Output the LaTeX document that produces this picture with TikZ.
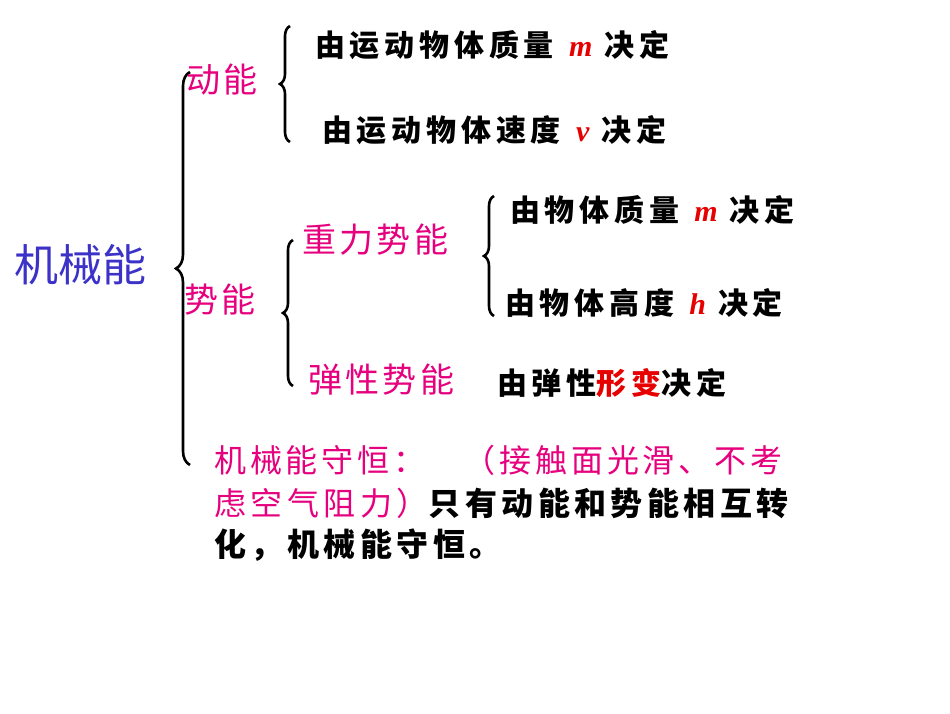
\documentclass[tikz,border=0pt]{standalone}
\usepackage{fontspec}
\setmainfont{Noto Sans CJK SC}
\newfontfamily\serifit{Liberation Serif}
\usetikzlibrary{decorations.pathreplacing}
\definecolor{mag}{RGB}{230,0,126}
\definecolor{titleblue}{RGB}{60,50,200}
\definecolor{rd}{RGB}{230,0,0}
\tikzset{
  br/.style={decorate,decoration={brace,amplitude=10pt,mirror},line width=2.6pt},
  hd/.style={text=mag,font=\fontsize{34}{38}\selectfont\addfontfeature{LetterSpace=10},inner sep=0pt,anchor=west},
  tx/.style={text=black,font=\bfseries\fontsize{30}{34}\selectfont\addfontfeature{LetterSpace=16},inner sep=0pt,anchor=west},
  bt/.style={text=black,font=\bfseries\fontsize{32}{36}\selectfont\addfontfeature{LetterSpace=14},inner sep=0pt,anchor=west}
}
\newcommand{\vr}[1]{\textcolor{rd}{\serifit\bfseries\itshape #1}}
\begin{document}
\begin{tikzpicture}[x=1pt,y=-1pt]
\useasboundingbox (0,0) rectangle (950,713);
\node[text=titleblue,font=\fontsize{44}{48}\selectfont,inner sep=0pt] (root) at (80,265) {机械能};
\draw[br,decoration={amplitude=14pt}] (190,72) -- (190,465);
\node[hd] (dn) at (186,80) {动能};
\draw[br] (290,26) -- (290,142);
\node[tx] (d1) at (315,45) {由运动物体质量\hspace{0.5em}\vr{m}\hspace{0.4em}决定};
\node[tx] (d2) at (322,130) {由运动物体速度\hspace{0.5em}\vr{v}\hspace{0.4em}决定};
\node[hd] (sn) at (184,300) {势能};
\draw[br] (293,240) -- (293,386);
\node[hd] (zl) at (302,240) {重力势能};
\draw[br] (494,196) -- (494,316);
\node[tx] (z1) at (510,210) {由物体质量\hspace{0.5em}\vr{m}\hspace{0.4em}决定};
\node[tx] (z2) at (505,303) {由物体高度\hspace{0.5em}\vr{h}\hspace{0.4em}决定};
\node[hd] (tx) at (308,380) {弹性势能};
\node[tx] (t1) at (497,383) {由弹性\textcolor{rd}{形变}决定};
\node[hd,font=\fontsize{32}{36}\selectfont\addfontfeature{LetterSpace=12}] (sh) at (214,460) {机械能守恒：\hspace{1.2em}（接触面光滑、不考};
\node[bt] (sh2) at (214,503) {\textcolor{mag}{\mdseries 虑空气阻力）}只有动能和势能相互转};
\node[bt] (sh3) at (214,545) {化，机械能守恒。};
\end{tikzpicture}
\end{document}
